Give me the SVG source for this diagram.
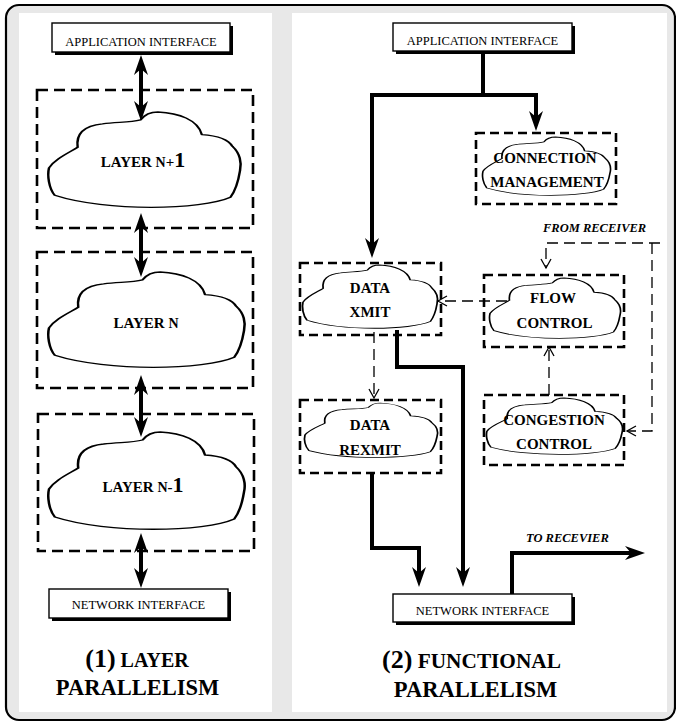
<svg xmlns="http://www.w3.org/2000/svg" width="676" height="722" viewBox="0 0 676 722">
  <style>
    .frame { fill: #e8e8e8; stroke: #000; stroke-width: 2.2; }
    .panel { fill: #fff; stroke: none; }
    .iface { fill: #fff; stroke: #000; stroke-width: 1.4; }
    .shadow { fill: #000; }
    .iface-text { font-family: "Liberation Serif", "Times New Roman", serif; font-size: 12.5px; fill: #000; text-anchor: middle; }
    .group-l { fill: none; stroke: #000; stroke-width: 2.6; stroke-dasharray: 11 6; }
    .group-r { fill: none; stroke: #000; stroke-width: 2.6; stroke-dasharray: 9 5; }
    .cloud { fill: #fff; stroke: #000; stroke-width: 1.3; vector-effect: non-scaling-stroke; }
    .label { font-family: "Liberation Serif", "Times New Roman", serif; font-weight: bold; font-size: 15px; fill: #000; text-anchor: middle; }
    .note { font-family: "Liberation Serif", "Times New Roman", serif; font-weight: bold; font-style: italic; font-size: 12.5px; fill: #000; }
    .title { font-family: "Liberation Serif", "Times New Roman", serif; font-weight: bold; fill: #000; text-anchor: middle; }
    .thick { fill: none; stroke: #000; stroke-width: 4; stroke-linejoin: miter; }
    .thin { fill: none; stroke: #000; stroke-width: 1.3; stroke-dasharray: 11 6; }
  </style>
  <defs>
    <path id="cloud-shape" d="M48,8 C50,3 53,0 57,0 C68,1 78,8 80,23 C88,24 94,28 96,35 C100,42 101,52 100,60 C99,72 97,82 95,87 C80,100 30,102 3,85 C0,78 -1,65 0,57 C3,48 10,42 15,36 C14,22 18,14 28,12 C36,10 42,11 48,8 Z"/>
    <marker id="head" markerUnits="userSpaceOnUse" orient="auto-start-reverse" overflow="visible" markerWidth="1" markerHeight="1" refX="0" refY="0">
      <path d="M12,0 L-8,-7 L-2,0 L-8,7 Z" fill="#000"/>
    </marker>
    <marker id="chevron" markerUnits="userSpaceOnUse" orient="auto" overflow="visible" markerWidth="1" markerHeight="1" refX="0" refY="0">
      <path d="M-9,-5 L0,0 L-9,5" fill="none" stroke="#000" stroke-width="1.3"/>
    </marker>
  </defs>

  <!-- outer frame and the two panels -->
  <rect class="frame" x="6" y="5" width="669" height="715" rx="13"/>
  <rect class="panel" x="19" y="13" width="253" height="699"/>
  <rect class="panel" x="292" y="13" width="375" height="699"/>

  <!-- connectors -->
  <g id="connectors">
    <!-- layer stack: two-way links -->
    <path class="thick" d="M141,67 V109" marker-start="url(#head)" marker-end="url(#head)"/>
    <path class="thick" d="M141,225 V265" marker-start="url(#head)" marker-end="url(#head)"/>
    <path class="thick" d="M141,387 V425" marker-start="url(#head)" marker-end="url(#head)"/>
    <path class="thick" d="M141,545 V576" marker-start="url(#head)" marker-end="url(#head)"/>

    <!-- functional: application interface fan-out -->
    <path class="thick" d="M483,51 V95"/>
    <path class="thick" d="M372,246 V95 H536 V119" marker-start="url(#head)" marker-end="url(#head)"/>
    <!-- data paths to the network interface -->
    <path class="thick" d="M397,330 V367 H463 V575" marker-end="url(#head)"/>
    <path class="thick" d="M372,473 V548 H419 V575" marker-end="url(#head)"/>
    <path class="thick" d="M512,594 V553 H633" marker-end="url(#head)"/>

    <!-- control signals -->
    <path class="thin" d="M507,301 H438" marker-end="url(#chevron)"/>
    <path class="thin" d="M660,243 H546 V268" marker-end="url(#chevron)"/>
    <path class="thin" d="M652,243 V431 H627" marker-end="url(#chevron)"/>
    <path class="thin" d="M549,395 V347" marker-end="url(#chevron)"/>
    <path class="thin" d="M374,332 V398" marker-end="url(#chevron)"/>
  </g>

  <!-- (1) layer parallelism -->
  <g id="app-if-1">
    <rect class="shadow" x="55" y="26" width="178" height="29"/>
    <rect class="iface" x="52" y="23" width="178" height="29"/>
    <text class="iface-text" x="141" y="45.5">APPLICATION INTERFACE</text>
  </g>
  <g id="layer-n-plus-1">
    <rect class="group-l" x="37" y="90" width="216" height="138"/>
    <use href="#cloud-shape" class="cloud" transform="translate(49,112) scale(1.91,0.98)"/>
    <text class="label" x="143" y="167">LAYER <tspan font-size="14">N</tspan>+<tspan font-size="22">1</tspan></text>
  </g>
  <g id="layer-n">
    <rect class="group-l" x="37" y="252" width="216" height="136"/>
    <use href="#cloud-shape" class="cloud" transform="translate(49,272) scale(1.95,0.98)"/>
    <text class="label" x="146" y="328">LAYER  <tspan font-size="14">N</tspan></text>
  </g>
  <g id="layer-n-minus-1">
    <rect class="group-l" x="38" y="414" width="216" height="137"/>
    <use href="#cloud-shape" class="cloud" transform="translate(49,432) scale(1.95,1.0)"/>
    <text class="label" x="143" y="492">LAYER <tspan font-size="14">N</tspan>-<tspan font-size="22">1</tspan></text>
  </g>
  <g id="net-if-1">
    <rect class="shadow" x="52" y="592" width="179" height="29"/>
    <rect class="iface" x="49" y="589" width="179" height="29"/>
    <text class="iface-text" x="138.5" y="608.5">NETWORK  INTERFACE</text>
  </g>
  <g id="title-1">
    <text class="title" x="137" y="667"><tspan font-size="26">(1)</tspan><tspan font-size="20"> LAYER</tspan></text>
    <text class="title" x="137.5" y="695" font-size="22.5">PARALLELISM</text>
  </g>

  <!-- (2) functional parallelism -->
  <g id="app-if-2">
    <rect class="shadow" x="396" y="26" width="179" height="28"/>
    <rect class="iface" x="393" y="23" width="179" height="28"/>
    <text class="iface-text" x="482.5" y="45">APPLICATION INTERFACE</text>
  </g>
  <g id="connection-management">
    <rect class="group-r" x="476" y="133" width="140" height="71"/>
    <use href="#cloud-shape" class="cloud" transform="translate(483,137) scale(1.27,0.6)"/>
    <text class="label" x="545" y="163">CONNECTION</text>
    <text class="label" x="547" y="187">MANAGEMENT</text>
  </g>
  <g id="data-xmit">
    <rect class="group-r" x="300" y="263" width="141" height="72"/>
    <use href="#cloud-shape" class="cloud" transform="translate(303,265) scale(1.34,0.65)"/>
    <text class="label" x="370" y="293">DATA</text>
    <text class="label" x="370" y="317">XMIT</text>
  </g>
  <g id="flow-control">
    <rect class="group-r" x="484" y="275" width="140" height="72"/>
    <use href="#cloud-shape" class="cloud" transform="translate(490,278) scale(1.3,0.62)"/>
    <text class="label" x="553" y="303">FLOW</text>
    <text class="label" x="554.5" y="328">CONTROL</text>
  </g>
  <g id="congestion-control">
    <rect class="group-r" x="484" y="395" width="140" height="70"/>
    <use href="#cloud-shape" class="cloud" transform="translate(487,398) scale(1.35,0.58)"/>
    <text class="label" x="554" y="425">CONGESTION</text>
    <text class="label" x="554" y="449">CONTROL</text>
  </g>
  <g id="data-rexmit">
    <rect class="group-r" x="300" y="400" width="141" height="73"/>
    <use href="#cloud-shape" class="cloud" transform="translate(305,403) scale(1.32,0.56)"/>
    <text class="label" x="370" y="430">DATA</text>
    <text class="label" x="370" y="455">REXMIT</text>
  </g>
  <g id="net-if-2">
    <rect class="shadow" x="396" y="597" width="179" height="28"/>
    <rect class="iface" x="393" y="594" width="179" height="28"/>
    <text class="iface-text" x="482.5" y="615">NETWORK  INTERFACE</text>
  </g>
  <g id="notes">
    <text class="note" x="543" y="232">FROM RECEIVER</text>
    <text class="note" x="526" y="542">TO RECEVIER</text>
  </g>
  <g id="title-2">
    <text class="title" x="471.5" y="668"><tspan font-size="26">(2)</tspan><tspan font-size="21.3">  FUNCTIONAL</tspan></text>
    <text class="title" x="475.5" y="697" font-size="22.5">PARALLELISM</text>
  </g>
</svg>
